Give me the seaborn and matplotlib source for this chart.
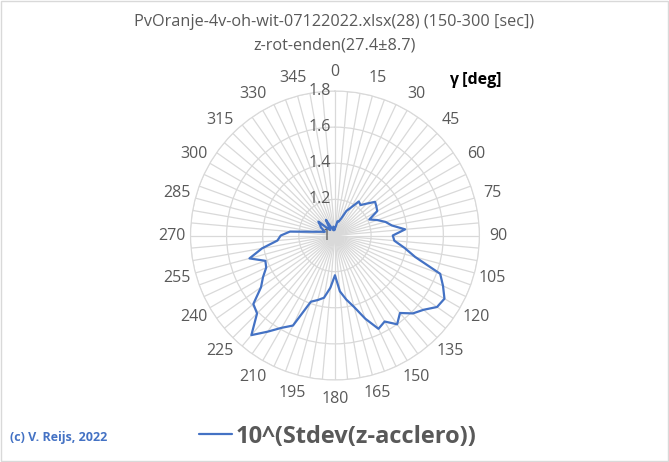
import numpy as np
import pandas as pd
import matplotlib
matplotlib.use("Agg")
import matplotlib.pyplot as plt
import seaborn as sns

# angle in degrees (clockwise from north), value of 10^(Stdev(z-acclero))
angles = list(range(0, 360, 5))
values = [1.04, 1.05, 1.08, 1.08, 1.10, 1.15, 1.18, 1.23, 1.22, 1.25,
          1.29, 1.28, 1.27, 1.21, 1.25, 1.29, 1.32, 1.39, 1.32, 1.33,
          1.39, 1.46, 1.62, 1.66, 1.70, 1.69, 1.64, 1.61, 1.56, 1.60,
          1.55, 1.57, 1.49, 1.41, 1.36, 1.31, 1.22, 1.29, 1.35, 1.37,
          1.39, 1.55, 1.59, 1.65, 1.72, 1.61, 1.59, 1.50, 1.46, 1.42,
          1.41, 1.49, 1.41, 1.32, 1.30, 1.25, 1.12, 1.08, 1.06, 1.07,
          1.09, 1.10, 1.12, 1.05, 1.04, 1.06, 1.10, 1.05, 1.04, 1.03,
          1.05, 1.03]
r_ticks = [1, 1.2, 1.4, 1.6, 1.8]
r_labels = ["1", "1.2", "1.4", "1.6", "1.8"]

title1 = "PvOranje-4v-oh-wit-07122022.xlsx(28) (150-300 [sec])"
title2 = "z-rot-enden(27.4±8.7)"
series_name = "10^(Stdev(z-acclero))"

sns.set_style("white")
plt.rcParams['font.family'] = ['Open Sans', 'DejaVu Sans']

df = pd.DataFrame({"theta": np.deg2rad(angles + [360]),
                   "value": values + [values[0]]})

fig = plt.figure(figsize=(6.69, 4.62), dpi=100)
ax = fig.add_axes([0.2847, 0.1775, 0.432, 0.6255], projection='polar')
ax.set_theta_zero_location('N')
ax.set_theta_direction(-1)

sns.lineplot(data=df, x="theta", y="value", ax=ax, color="#4472C4",
             linewidth=1.6, sort=False, legend=False, zorder=5)

ax.set_ylim(1, 1.8)
ax.set_yticks(r_ticks[1:])
ax.set_yticklabels([])
ax.set_xticks(np.deg2rad(angles))
ax.set_xticklabels([str(a) if a % 15 == 0 else "" for a in angles],
                   color="#595959", fontsize=11.5)
ax.tick_params(axis='x', pad=3)
ax.grid(True, color="#D9D9D9", linewidth=0.9)
ax.spines['polar'].set_color("#D9D9D9")
ax.set_xlabel("")
ax.set_ylabel("")

for rv, lab in zip(r_ticks, r_labels):
    ax.annotate(lab, xy=(0, rv), xytext=(-3, 0), textcoords='offset points',
                ha='right', va='center', color="#595959", fontsize=11.5)

fig.text(0.5, 0.952, title1, ha='center', va='center', color="#595959", fontsize=11.7)
fig.text(0.5, 0.902, title2, ha='center', va='center', color="#595959", fontsize=11.7)
fig.text(0.71, 0.826, "γ [deg]", ha='center', va='center', color="black",
         fontsize=11.5, fontweight='bold')
fig.text(0.015, 0.053, "(c) V. Reijs, 2022", ha='left', va='center',
         color="#4472C4", fontsize=9, fontweight='bold')

handle = plt.Line2D([], [], color="#4472C4", linewidth=1.6)
leg = fig.legend([handle], [series_name], loc='center', bbox_to_anchor=(0.505, 0.055),
                 frameon=False, handlelength=1.4, handletextpad=0.15,
                 prop={'size': 17, 'weight': 'bold'})
for t in leg.get_texts():
    t.set_color("#595959")

fig.patches.append(plt.Rectangle((0.002, 0.002), 0.996, 0.996, transform=fig.transFigure,
                                 fill=False, edgecolor="#D9D9D9", linewidth=1))

fig.savefig("out.png", dpi=100)
